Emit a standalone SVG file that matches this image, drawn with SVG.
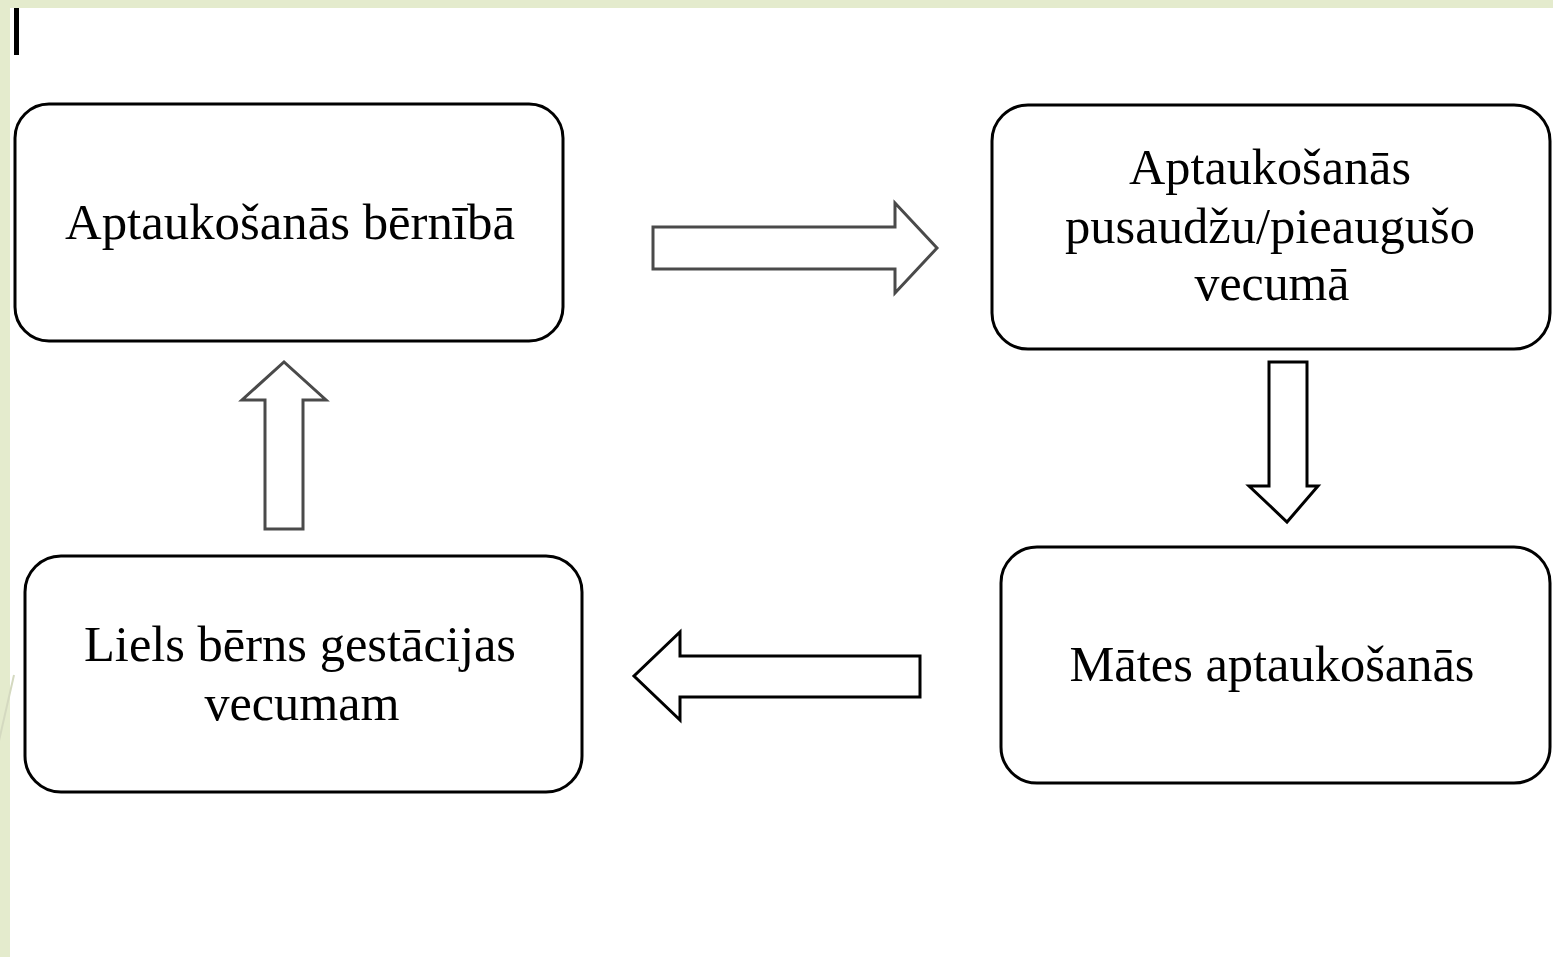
<svg xmlns="http://www.w3.org/2000/svg" width="1553" height="957" viewBox="0 0 1553 957">
  <style>
    .box { fill: #ffffff; stroke: #000000; stroke-width: 3; }
    .lbl { font-family: "Liberation Serif", "Times New Roman", serif; font-size: 51px; fill: #000000; text-anchor: middle; }
    .arr { fill: #ffffff; stroke-width: 3; stroke-linejoin: miter; }
    .gray { stroke: #4a4a4a; }
    .blk { stroke: #000000; }
  </style>
  <rect x="0" y="0" width="1553" height="957" fill="#ffffff"/>
  <rect x="0" y="0" width="1553" height="8" fill="#e4ebcd"/>
  <rect x="0" y="0" width="10" height="957" fill="#e4ebcd"/>
  <line x1="-2" y1="745" x2="14" y2="675" stroke="#d4d9c0" stroke-width="2"/>
  <rect x="14" y="8" width="5" height="47" fill="#000000"/>

  <g id="node-childhood">
    <rect class="box" x="15" y="104" width="548" height="237" rx="34" ry="34"/>
    <text class="lbl" x="290" y="239" textLength="450" lengthAdjust="spacingAndGlyphs">Aptaukošanās bērnībā</text>
  </g>
  <g id="node-adolescent">
    <rect class="box" x="992" y="105" width="558" height="244" rx="36" ry="36"/>
    <text class="lbl" x="1270" y="184" textLength="282" lengthAdjust="spacingAndGlyphs">Aptaukošanās</text>
    <text class="lbl" x="1270" y="243" textLength="410" lengthAdjust="spacingAndGlyphs">pusaudžu/pieaugušo</text>
    <text class="lbl" x="1272" y="300" textLength="155" lengthAdjust="spacingAndGlyphs">vecumā</text>
  </g>
  <g id="node-maternal">
    <rect class="box" x="1001" y="547" width="549" height="236" rx="36" ry="36"/>
    <text class="lbl" x="1272" y="681" textLength="405" lengthAdjust="spacingAndGlyphs">Mātes aptaukošanās</text>
  </g>
  <g id="node-large-baby">
    <rect class="box" x="25" y="556" width="557" height="236" rx="36" ry="36"/>
    <text class="lbl" x="300" y="661" textLength="432" lengthAdjust="spacingAndGlyphs">Liels bērns gestācijas</text>
    <text class="lbl" x="302" y="720" textLength="195" lengthAdjust="spacingAndGlyphs">vecumam</text>
  </g>

  <g id="connectors">
    <polygon class="arr gray" points="653,227 895,227 895,203 937,248 895,293 895,269 653,269"/>
    <polygon class="arr blk" points="1269,362 1307,362 1307,486 1318,486 1287,522 1249,486 1269,486"/>
    <polygon class="arr blk" points="920,656 680,656 680,632 634,676 680,720 680,697 920,697"/>
    <polygon class="arr gray" points="265,529 303,529 303,400 326,400 284,362 242,400 265,400"/>
  </g>
</svg>
